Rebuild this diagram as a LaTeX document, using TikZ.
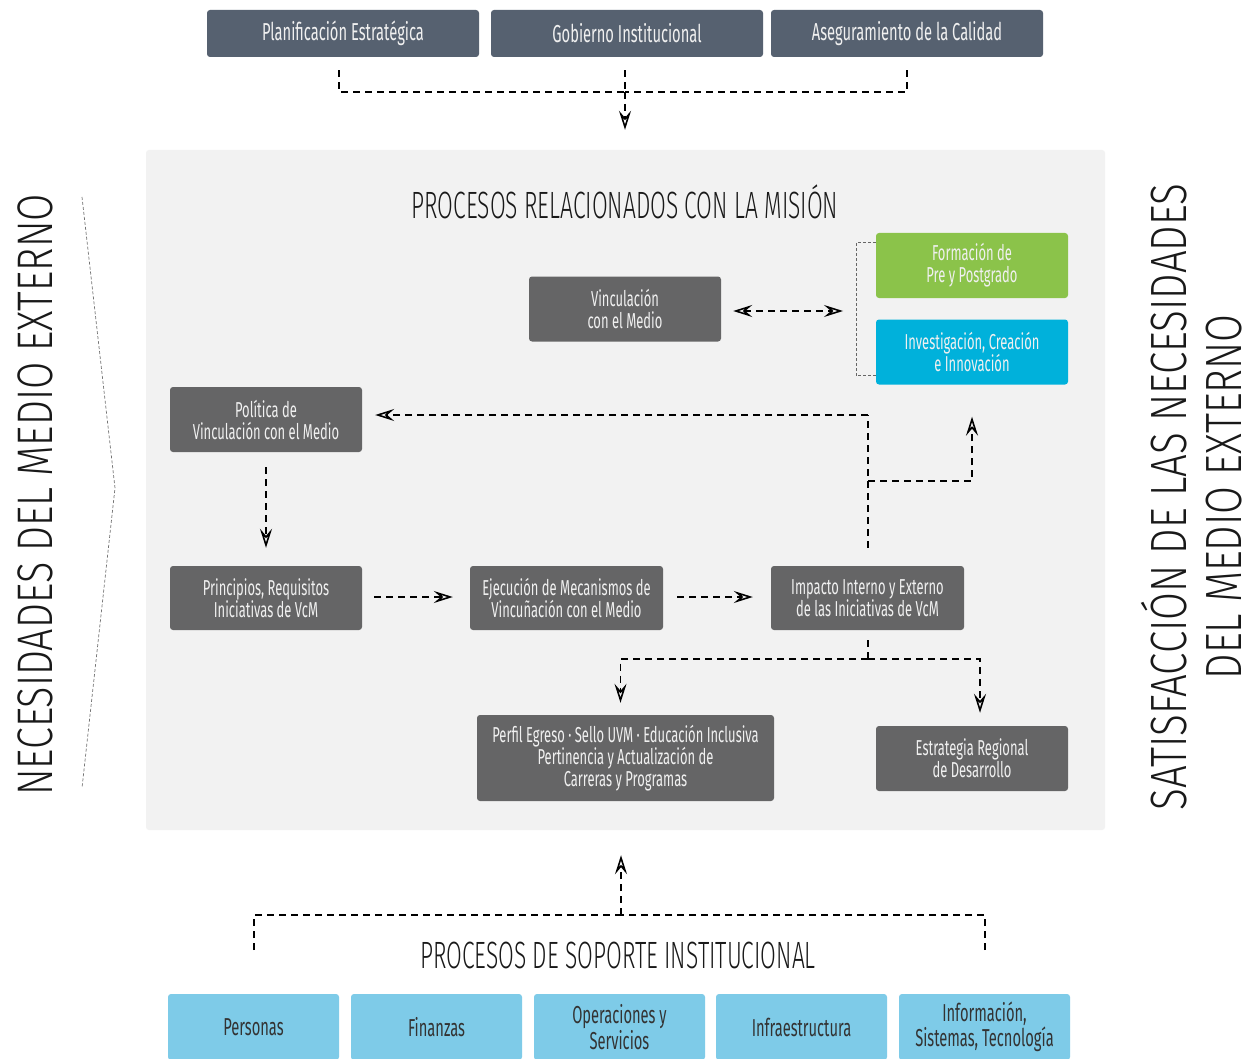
\documentclass[tikz,border=0pt]{standalone}
\usepackage{fontspec}
\setmainfont{Fira Sans}[FakeStretch=0.6]
\newfontfamily\ltf{Fira Sans}[UprightFont=* Light, FakeStretch=0.6]
\newfontfamily\sidef{Fira Sans}[UprightFont=* Light, FakeStretch=0.79]
\usetikzlibrary{arrows.meta,calc}
\definecolor{slate}{HTML}{566170}
\definecolor{dgray}{HTML}{656566}
\definecolor{lgreen}{HTML}{8BC34A}
\definecolor{cyanb}{HTML}{00B1DB}
\definecolor{lblue}{HTML}{7ECBE8}
\definecolor{panel}{HTML}{F2F2F2}
\definecolor{boxtxt}{HTML}{F0F0F0}
\tikzset{
  box/.style={rounded corners=3pt, draw=none, text=boxtxt, align=center, inner sep=0pt, font=\fontsize{21.6}{22}\selectfont},
  topbox/.style={box, fill=slate, minimum width=272pt, minimum height=47pt, font=\fontsize{24.5}{26}\selectfont},
  graybox/.style={box, fill=dgray},
  botbox/.style={box, fill=lblue, text=black!80, minimum width=171pt, minimum height=66pt, font=\fontsize{24.5}{22.5}\selectfont},
  conn/.style={draw=black, line width=1.5pt, dash pattern=on 7pt off 5pt},
  tip/.tip={Stealth[open, length=19pt, width=12pt, inset=7pt, line width=1.6pt]},
  arr/.style={conn, -tip},
  darr/.style={conn, tip-tip},
  thin/.style={draw=black!60, line width=0.9pt, dash pattern=on 3pt off 2pt},
  bigtitle/.style={font=\ltf\fontsize{38}{42}\selectfont, text=black!90},
}
\begin{document}
\begin{tikzpicture}[x=1pt,y=-1pt]
\useasboundingbox (0,0) rectangle (1257,1059);
\fill[white] (0,0) rectangle (1257,1059);
% top boxes
\node[topbox] (p1) at (343,33.5) {Planificación Estratégica};
\node[topbox] (p2) at (627,33.5) {Gobierno Institucional};
\node[topbox] (p3) at (907,33.5) {Aseguramiento de la Calidad};
% panel
\node[fill=panel, rounded corners=3pt, minimum width=959pt, minimum height=680pt, inner sep=0pt] (panel) at (625.5,490) {};
\node[bigtitle] (title) at (625,202) {PROCESOS RELACIONADOS CON LA MISIÓN};
% top connector
\coordinate (tj) at (625,92);
\draw[conn] ([xshift=-4pt,yshift=-13pt]p1.south) |- (tj);
\draw[conn] ([yshift=-13pt]p3.south) |- (tj);
\draw[conn] ([yshift=-13pt]p2.south -| tj) -- (tj);
\draw[arr] (tj) -- ([yshift=20pt]panel.north -| tj);
% mission boxes
\node[graybox, minimum width=192pt, minimum height=65pt] (vcm) at (625,309) {Vinculación\\con el Medio};
\node[box, fill=lgreen, minimum width=192pt, minimum height=65pt] (form) at (972,265.5) {Formación de\\Pre y Postgrado};
\node[box, fill=cyanb, minimum width=192pt, minimum height=65pt] (inv) at (972,352) {Investigación, Creación\\e Innovación};
\node[graybox, minimum width=192pt, minimum height=65pt] (pol) at (266,419.5) {Política de\\Vinculación con el Medio};
\node[graybox, minimum width=192pt, minimum height=64pt] (prin) at (266,598) {Principios, Requisitos\\Iniciativas de VcM};
\node[graybox, minimum width=193pt, minimum height=64pt] (ejec) at (566.5,598) {Ejecución de Mecanismos de\\Vincuñación con el Medio};
\node[graybox, minimum width=193pt, minimum height=64pt] (imp) at (867.5,598) {Impacto Interno y Externo\\de las Iniciativas de VcM};
\node[graybox, minimum width=297pt, minimum height=86pt] (perf) at (625.5,758) {Perfil Egreso · Sello UVM · Educación Inclusiva\\Pertinencia y Actualización de\\Carreras y Programas};
\node[graybox, minimum width=192pt, minimum height=65pt] (estr) at (972,758.5) {Estrategia Regional\\de Desarrollo};
% bracket around formación / investigación
\coordinate (bk) at (856,311);
\draw[thin] ([yshift=-10pt]form.north west) -| (bk) |- ([yshift=9pt]inv.south west);
% vcm <-> bracket
\draw[darr] ([xshift=12pt]vcm.east |- 0,311) -- ([xshift=-13pt]bk);
% impacto -> política and -> investigación
\coordinate (ic) at (868,415);
\coordinate (ib) at (868,481);
\draw[conn] ([yshift=18pt]imp.north -| ic) -- (ic);
\draw[arr] (ic) -- ([xshift=13pt]pol.east |- ic);
\draw[arr] (ib) -| ([yshift=-32pt]inv.south);
% política -> principios
\draw[arr] ([yshift=-15pt]pol.south) -- ([yshift=18pt]prin.north);
% principios -> ejecución -> impacto
\draw[arr] ([xshift=12pt]prin.east |- 0,597) -- ([xshift=-17pt]ejec.west |- 0,597);
\draw[arr] ([xshift=14pt]ejec.east |- 0,597) -- ([xshift=-18pt]imp.west |- 0,597);
% impacto -> perfil / estrategia
\coordinate (dj) at (868,659);
\draw[conn] ([yshift=-10pt]imp.south -| dj) -- (dj);
\draw[arr] (dj) -| ([xshift=-5pt,yshift=12pt]perf.north);
\draw[arr] (dj) -| ([xshift=8pt,yshift=13pt]estr.north);
% support
\node[bigtitle] (sup) at (618,955) {PROCESOS DE SOPORTE INSTITUCIONAL};
\coordinate (bj) at (621,915);
\draw[conn] (254,950) |- (bj);
\draw[conn] (985,950) |- (bj);
\draw[arr] (bj) -- ([yshift=-25pt]panel.south -| bj);
\node[botbox] (b1) at (253.5,1027) {Personas};
\node[botbox] (b2) at (436.5,1027) {Finanzas};
\node[botbox] (b3) at (619.5,1027) {Operaciones y\\Servicios};
\node[botbox] (b4) at (801.5,1027) {Infraestructura};
\node[botbox] (b5) at (984.5,1027) {Información,\\Sistemas, Tecnología};
% side texts
\node[rotate=90, font=\sidef\fontsize{50}{56}\selectfont, text=black!90] (left) at (35,495) {NECESIDADES DEL MEDIO EXTERNO};
\draw[thin, draw=black!55, line width=0.7pt] (82,197) -- (115,488) -- (82,788);
\node[rotate=90, font=\sidef\fontsize{51}{55}\selectfont, text=black!90, align=center] (right) at (1192,497) {SATISFACCIÓN DE LAS NECESIDADES\\DEL MEDIO EXTERNO};
\end{tikzpicture}
\end{document}
